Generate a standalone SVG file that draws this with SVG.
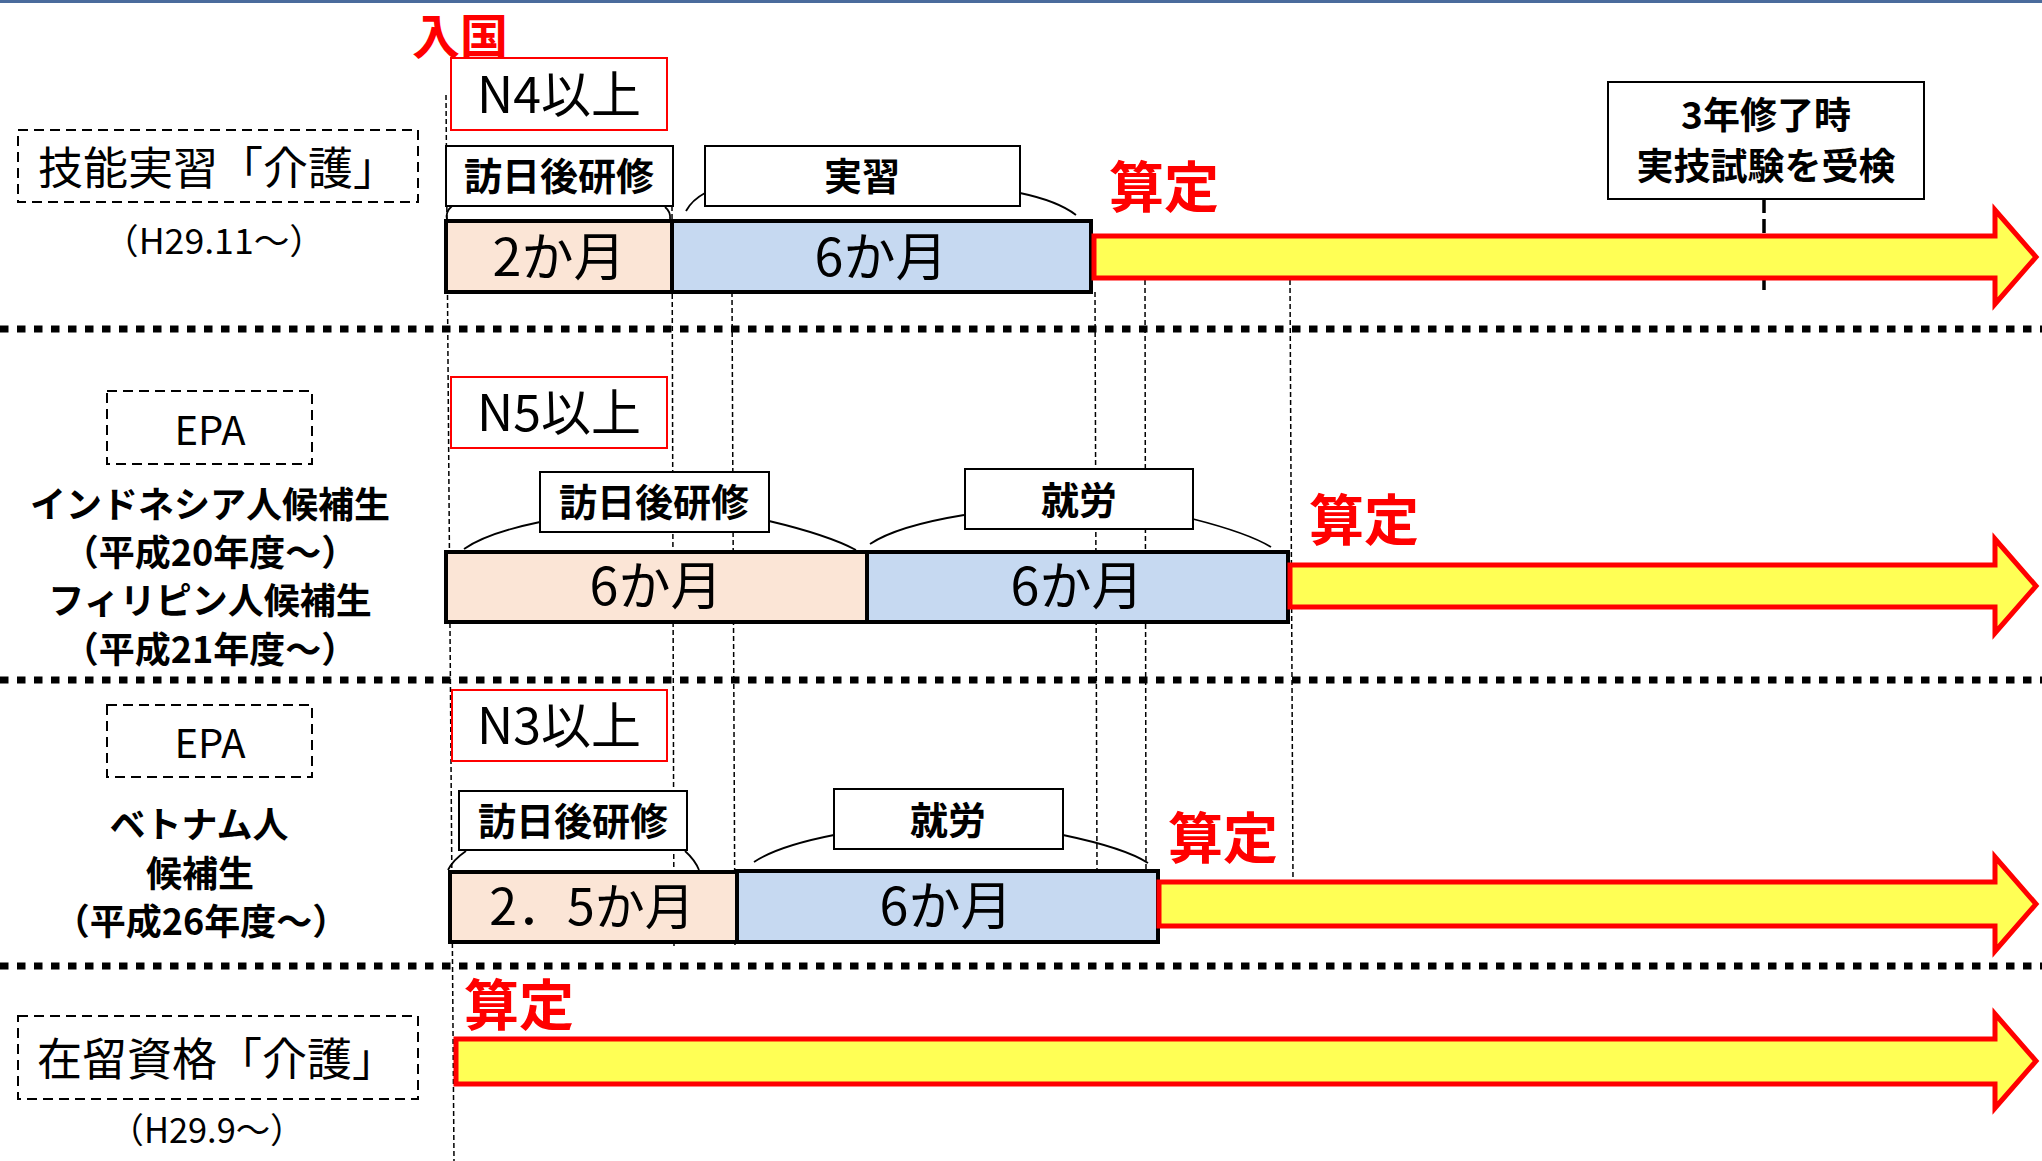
<svg xmlns="http://www.w3.org/2000/svg" width="2042" height="1161" viewBox="0 0 2042 1161">
<style>
text{font-family:"Noto Sans CJK JP","Noto Sans",sans-serif;fill:#000;}
.r{font-weight:400;}
.b{font-weight:700;}
.red{fill:#ff0000;font-weight:700;}
.lbl{fill:none;stroke:#000;stroke-width:2;stroke-dasharray:10 6;}
.box{fill:#fff;stroke:#000;stroke-width:2;}
.rbox{fill:#fff;stroke:#ff0000;stroke-width:2;}
.peach{fill:#fbe5d6;stroke:#000;stroke-width:4;}
.blue{fill:#c6d9f1;stroke:#000;stroke-width:4;}
.arrow{fill:#ffff55;stroke:#ff0000;stroke-width:5;}
.vd{fill:none;stroke:#000;stroke-width:1.5;stroke-dasharray:5 3;}
.sep{fill:none;stroke:#000;stroke-width:7;stroke-dasharray:8.5 8.5;}
.arc{fill:none;stroke:#000;stroke-width:1.8;}
</style>
<rect x="0" y="0" width="2042" height="1161" fill="#fff"/>
<rect x="0" y="0" width="2042" height="3" fill="#4a6b9c"/>

<g id="separators">
<line class="sep" x1="0" y1="329" x2="2042" y2="329"/>
<line class="sep" x1="0" y1="680" x2="2042" y2="680"/>
<line class="sep" x1="0" y1="966" x2="2042" y2="966"/>
</g>

<g id="connectors">
<line class="vd" x1="446" y1="95" x2="454" y2="1161"/>
<line class="vd" x1="672" y1="206" x2="674" y2="946"/>
<line class="vd" x1="732" y1="292" x2="735" y2="947"/>
<line class="vd" x1="1095" y1="292" x2="1097" y2="870"/>
<line class="vd" x1="1145" y1="280" x2="1146" y2="870"/>
<line class="vd" x1="1290" y1="280" x2="1293" y2="880"/>
<line x1="1764" y1="199" x2="1764" y2="290" stroke="#000" stroke-width="3.5" stroke-dasharray="14 6"/>
<path class="arc" d="M452,206 Q445,212 447,220"/>
<path class="arc" d="M665,207 Q671,212 670,219"/>
<path class="arc" d="M705,193 Q692,200 686,211"/>
<path class="arc" d="M1020,193 Q1058,201 1076,215"/>
<path class="arc" d="M540,522 Q487,533 464,549"/>
<path class="arc" d="M769,521 Q828,535 856,550"/>
<path class="arc" d="M964,515 Q897,526 870,544"/>
<path class="arc" d="M1193,519 Q1248,533 1271,547"/>
<path class="arc" d="M466,851 Q453,860 448,870"/>
<path class="arc" d="M685,851 Q695,860 699,870"/>
<path class="arc" d="M834,835 Q778,846 754,862"/>
<path class="arc" d="M1063,835 Q1125,848 1148,863"/>
</g>

<g id="entry"><text class="red" x="460" y="54" font-size="48" text-anchor="middle">入国</text></g>

<g id="row1-label">
<rect class="lbl" x="18" y="130" width="400" height="72"/>
<text class="r" x="218" y="185" font-size="45" text-anchor="middle">技能実習「介護」</text>
<text class="r" x="214" y="254" font-size="35" text-anchor="middle" textLength="222" lengthAdjust="spacingAndGlyphs">（H29.11～）</text>
</g>
<g id="row1-n4"><rect class="rbox" x="451" y="58" width="216" height="72"/><text class="r" x="559" y="113" font-size="50" text-anchor="middle">N4以上</text></g>
<g id="row1-kenshu"><rect class="box" x="446" y="146" width="227" height="60"/><text class="b" x="559" y="190" font-size="38" text-anchor="middle">訪日後研修</text></g>
<g id="row1-jisshu"><rect class="box" x="705" y="146" width="315" height="60"/><text class="b" x="862" y="190" font-size="38" text-anchor="middle">実習</text></g>
<g id="row1-bar1"><rect class="peach" x="446" y="221" width="226" height="71"/><text class="r" x="559" y="276" font-size="52" text-anchor="middle">2か月</text></g>
<g id="row1-bar2"><rect class="blue" x="672" y="221" width="419" height="71"/><text class="r" x="881" y="276" font-size="52" text-anchor="middle">6か月</text></g>
<g id="row1-santei"><text class="red" x="1164" y="207" font-size="55" text-anchor="middle">算定</text></g>
<g id="row1-arrow"><path class="arrow" d="M1094,236 H1995 V210 L2036,257 L1995,304 V278 H1094 Z"/></g>
<g id="row1-exam"><rect class="box" x="1608" y="82" width="316" height="117"/>
<text class="b" x="1766" y="129" font-size="37" text-anchor="middle">3年修了時</text>
<text class="b" x="1766" y="180" font-size="37" text-anchor="middle">実技試験を受検</text></g>

<g id="row2-label">
<rect class="lbl" x="107" y="391" width="205" height="73"/>
<text class="r" x="210" y="445" font-size="40" text-anchor="middle">EPA</text>
<text class="b" x="210" y="518" font-size="36" text-anchor="middle">インドネシア人候補生</text>
<text class="b" x="210" y="566" font-size="36" text-anchor="middle">（平成20年度～）</text>
<text class="b" x="210" y="614" font-size="36" text-anchor="middle">フィリピン人候補生</text>
<text class="b" x="210" y="663" font-size="36" text-anchor="middle">（平成21年度～）</text>
</g>
<g id="row2-n5"><rect class="rbox" x="451" y="377" width="216" height="71"/><text class="r" x="559" y="431" font-size="50" text-anchor="middle">N5以上</text></g>
<g id="row2-kenshu"><rect class="box" x="540" y="472" width="229" height="60"/><text class="b" x="654" y="516" font-size="38" text-anchor="middle">訪日後研修</text></g>
<g id="row2-shuro"><rect class="box" x="965" y="469" width="228" height="60"/><text class="b" x="1079" y="514" font-size="38" text-anchor="middle">就労</text></g>
<g id="row2-bar1"><rect class="peach" x="446" y="552" width="421" height="70"/><text class="r" x="656" y="605" font-size="52" text-anchor="middle">6か月</text></g>
<g id="row2-bar2"><rect class="blue" x="867" y="552" width="421" height="70"/><text class="r" x="1077" y="605" font-size="52" text-anchor="middle">6か月</text></g>
<g id="row2-santei"><text class="red" x="1364" y="540" font-size="55" text-anchor="middle">算定</text></g>
<g id="row2-arrow"><path class="arrow" d="M1290,565 H1995 V539 L2036,586 L1995,633 V607 H1290 Z"/></g>

<g id="row3-label">
<rect class="lbl" x="107" y="705" width="205" height="72"/>
<text class="r" x="210" y="758" font-size="40" text-anchor="middle">EPA</text>
<text class="b" x="199" y="838" font-size="36" text-anchor="middle">ベトナム人</text>
<text class="b" x="200" y="887" font-size="36" text-anchor="middle">候補生</text>
<text class="b" x="201" y="935" font-size="36" text-anchor="middle">（平成26年度～）</text>
</g>
<g id="row3-n3"><rect class="rbox" x="452" y="690" width="215" height="71"/><text class="r" x="559" y="744" font-size="50" text-anchor="middle">N3以上</text></g>
<g id="row3-kenshu"><rect class="box" x="459" y="791" width="228" height="59"/><text class="b" x="573" y="835" font-size="38" text-anchor="middle">訪日後研修</text></g>
<g id="row3-shuro"><rect class="box" x="834" y="789" width="229" height="60"/><text class="b" x="948" y="834" font-size="38" text-anchor="middle">就労</text></g>
<g id="row3-bar1"><rect class="peach" x="450" y="872" width="287" height="70"/><text class="r" x="592" y="925" font-size="50" text-anchor="middle">2．5か月</text></g>
<g id="row3-bar2"><rect class="blue" x="737" y="871" width="421" height="71"/><text class="r" x="946" y="925" font-size="52" text-anchor="middle">6か月</text></g>
<g id="row3-santei"><text class="red" x="1223" y="858" font-size="55" text-anchor="middle">算定</text></g>
<g id="row3-arrow"><path class="arrow" d="M1159,882 H1995 V857 L2036,904 L1995,951 V926 H1159 Z"/></g>

<g id="row4-label">
<rect class="lbl" x="18" y="1016" width="400" height="83"/>
<text class="r" x="217" y="1076" font-size="45" text-anchor="middle">在留資格「介護」</text>
<text class="r" x="207" y="1143" font-size="35" text-anchor="middle" textLength="195" lengthAdjust="spacingAndGlyphs">（H29.9～）</text>
</g>
<g id="row4-santei"><text class="red" x="519" y="1025" font-size="55" text-anchor="middle">算定</text></g>
<g id="row4-arrow"><path class="arrow" d="M456,1039 H1995 V1014 L2036,1061 L1995,1108 V1084 H456 Z"/></g>
</svg>
